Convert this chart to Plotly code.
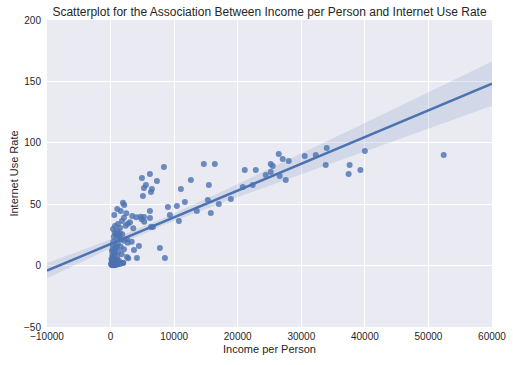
import numpy as np
import plotly.graph_objects as go

# Income per person (x) and internet use rate (y)
income = [52400, 40000, 39300, 37600, 37450, 34000, 33840, 32270, 30540, 28030,
          27080, 26460, 27560, 26610, 25510, 25200, 25200, 24410, 22840, 21110,
          22370, 20800, 18920, 17030, 15770, 15460, 15300, 14670, 16400, 13570,
          12630, 11690, 11060, 10430, 10750, 9020, 9330, 8550, 7760, 8390,
          7290, 6190, 6350, 6500, 5560, 5250, 4930, 5090, 6350, 6660,
          6190, 5250, 6190, 4460, 3680, 4150, 2580, 1950, 2580,
          1950, 2150, 1050, 580, 1590, 2470, 2100, 3410, 4040, 4730,
          5290, 4890, 3050, 2730, 2370, 3570, 640, 1050, 1480, 1840,
          490, 1050, 1630, 420, 2100, 2690, 3320, 330, 960, 1590,
          2100, 330, 690, 1210, 1740, 270, 580, 1050, 330, 800,
          1320, 2000, 2780, 170, 690,
          60, 220, 380, 530, 850, 1160, 1320, 850, 380, 690,
          1160, 1480, 1790, 220, 530, 140, 1000, 1480, 300,
          250, 400, 450, 600, 700, 900, 1100, 350, 500, 750,
          200, 650, 950, 1250, 420, 560, 300, 820]
internet = [90.1, 93.3, 77.8, 81.9, 74.6, 95.8, 81.9, 90.1, 89.2, 85.2,
            86.8, 90.9, 69.7, 73.0, 81.1, 82.7, 76.2, 73.8, 77.8, 77.8,
            65.6, 64.0, 54.2, 50.2, 42.8, 65.6, 53.4, 82.7, 82.7, 44.5,
            69.7, 51.8, 62.4, 48.5, 36.3, 47.7, 41.2, 6.2, 14.3, 80.3,
            68.9, 74.6, 59.9, 62.4, 65.6, 63.2, 71.3, 56.7, 31.4, 31.4,
            44.5, 39.6, 38.8, 16.0, 12.7, 6.2, 7.0, 2.1, 21.7,
            51.2, 49.3, 46.1, 41.2, 44.5, 42.6, 39.0, 40.4, 39.3, 39.8,
            35.7, 37.7, 35.3, 34.1, 32.5, 30.4, 26.8, 28.2, 26.3, 25.5,
            23.5, 22.2, 21.4, 19.5, 20.3, 18.6, 19.5, 16.8, 15.4, 15.4,
            13.3, 13.3, 10.0, 11.3, 9.2, 8.6, 5.9, 7.2, 3.2, 2.4,
            4.0, 2.4, 5.9, 0.5, 0.2,
            1.3, 4.6, 7.0, 11.1, 14.3, 17.6, 24.1, 25.7, 29.8, 32.3,
            33.9, 30.6, 36.3, 11.9, 2.9, 5.4, 1.3, 1.3, 0.3,
            1.0, 2.0, 3.5, 1.5, 4.5, 2.8, 0.8, 6.5, 0.6, 3.0,
            2.2, 1.8, 5.0, 2.5, 0.4, 1.2, 4.0, 0.9]

x_ticks = [-10000, 0, 10000, 20000, 30000, 40000, 50000, 60000]
x_labels = ["\u221210000", "0", "10000", "20000", "30000", "40000", "50000", "60000"]
y_ticks = [-50, 0, 50, 100, 150, 200]
y_labels = ["\u221250", "0", "50", "100", "150", "200"]

blue = "#4C72B0"
x = np.array(income, dtype=float)
y = np.array(internet, dtype=float)
n = len(x)
X = np.column_stack([np.ones(n), x])
XtX_inv = np.linalg.inv(X.T @ X)
beta = XtX_inv @ X.T @ y
resid = y - X @ beta
h = np.sum((X @ XtX_inv) * X, axis=1)
meat = X.T @ (X * (resid ** 2 / (1 - h) ** 2)[:, None])
cov = XtX_inv @ meat @ XtX_inv
xs = np.linspace(-10000, 60000, 100)
Xs = np.column_stack([np.ones_like(xs), xs])
yhat = Xs @ beta
se = np.sqrt(np.sum((Xs @ cov) * Xs, axis=1))
t = 1.98
lo, hi = yhat - t * se, yhat + t * se

fig = go.Figure()
fig.add_trace(go.Scatter(x=np.concatenate([xs, xs[::-1]]), y=np.concatenate([hi, lo[::-1]]),
                         fill="toself", fillcolor="rgba(76,114,176,0.15)", line=dict(width=0),
                         mode="lines", hoverinfo="skip", showlegend=False))
fig.add_trace(go.Scatter(x=x, y=y, mode="markers",
                         marker=dict(color=blue, size=6, opacity=0.8, line=dict(width=0)),
                         showlegend=False))
fig.add_trace(go.Scatter(x=xs, y=yhat, mode="lines", line=dict(color=blue, width=2.5),
                         showlegend=False))

font = "Liberation Sans, Arial, sans-serif"
fig.update_layout(
    width=513, height=365,
    margin=dict(l=47, r=21, t=20, b=38),
    paper_bgcolor="white", plot_bgcolor="#EAEAF2",
    font=dict(family=font, size=10, color="#262626"),
    title=dict(text="Scatterplot for the Association Between Income per Person and Internet Use Rate",
               x=0.5, xref="paper", xanchor="center", y=1 - 12 / 365, yanchor="middle",
               font=dict(size=12, color="#262626")),
    xaxis=dict(range=[-10000, 60000], tickvals=x_ticks, ticktext=x_labels, showgrid=True,
               gridcolor="white", gridwidth=1, zeroline=False, showline=False, ticks="",
               automargin=False, ticklabelstandoff=2,
               title=dict(text="Income per Person", font=dict(size=11), standoff=4)),
    yaxis=dict(range=[-50, 200], tickvals=y_ticks, ticktext=y_labels, showgrid=True,
               gridcolor="white", gridwidth=1, zeroline=False, showline=False, ticks="",
               automargin=False, ticklabelstandoff=5,
               title=dict(text="Internet Use Rate", font=dict(size=11), standoff=3)),
)
fig.write_html("out.html", config={"displayModeBar": False},
               post_script="document.body.style.margin='0';")
